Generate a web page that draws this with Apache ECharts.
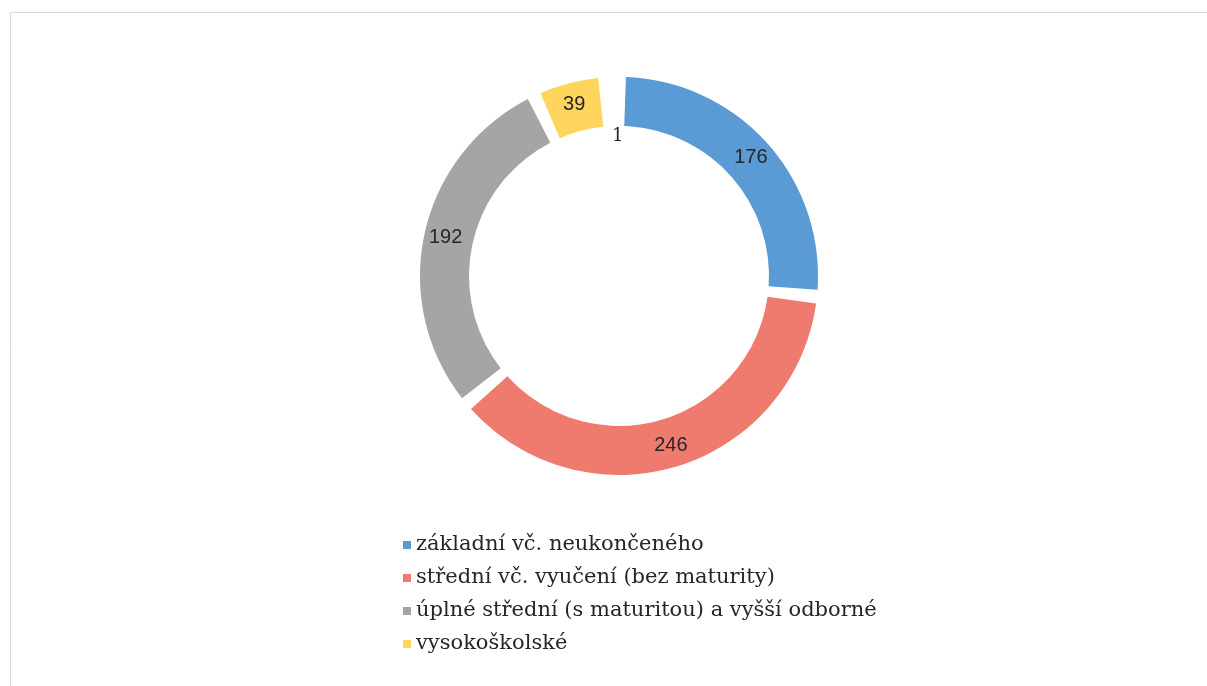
<!DOCTYPE html>
<html>
<head>
<meta charset="utf-8">
<script src="https://cdn.jsdelivr.net/npm/echarts@6/dist/echarts.min.js"></script>
<style>
  html, body { margin: 0; padding: 0; background: #fff; }
  #chart { width: 1207px; height: 686px; }
</style>
</head>
<body>
<div id="chart"></div>
<script>
// education level categories (last one has no legend entry in the original)
const categories = [
  "základní vč. neukončeného",
  "střední vč. vyučení (bez maturity)",
  "úplné střední (s maturitou) a vyšší odborné",
  "vysokoškolské",
  "neuvedeno"
];
const values = [176, 246, 192, 39, 1];
const colors = ["#5B9BD5", "#EE7B6E", "#A5A5A5", "#FFD55E", "rgba(0,0,0,0)"];
const legendNames = categories.slice(0, 4);

let chartMy = echarts.init(document.getElementById("chart"));

const seriesData = values.map((v, i) => {
  const item = { name: categories[i], value: v, itemStyle: { color: colors[i] } };
  if (i === 4) {
    // tiny slice, label pushed into the hole like in the original
    item.label = { offset: [5, 38], fontFamily: "DejaVu Serif", fontSize: 18 };
  }
  return item;
});

const option = {
  backgroundColor: "#fff",
  animation: false,
  graphic: [
    {
      type: "rect",
      shape: { x: 10.5, y: 12.5, width: 1300, height: 800 },
      style: { fill: "none", stroke: "#d9d9d9", lineWidth: 1 },
      silent: true,
    },
  ],
  legend: {
    data: legendNames,
    orient: "vertical",
    left: 398,
    top: 528,
    itemWidth: 8,
    itemHeight: 8,
    itemGap: 9,
    icon: "rect",
    textStyle: {
      fontFamily: "DejaVu Serif",
      fontSize: 21,
      lineHeight: 24,
      color: "#262626",
      padding: [0, 0, 0, 0],
    },
  },
  series: [
    {
      type: "pie",
      center: [619, 276],
      radius: [150, 199],
      startAngle: 90,
      clockwise: true,
      padAngle: 4,
      avoidLabelOverlap: false,
      label: {
        show: true,
        position: "inside",
        formatter: "{c}",
        fontFamily: "Liberation Sans",
        fontSize: 20,
        color: "#262626",
      },
      labelLine: { show: false },
      emphasis: { disabled: true },
      data: seriesData,
    },
  ],
};

chartMy.setOption(option);
</script>
</body>
</html>
